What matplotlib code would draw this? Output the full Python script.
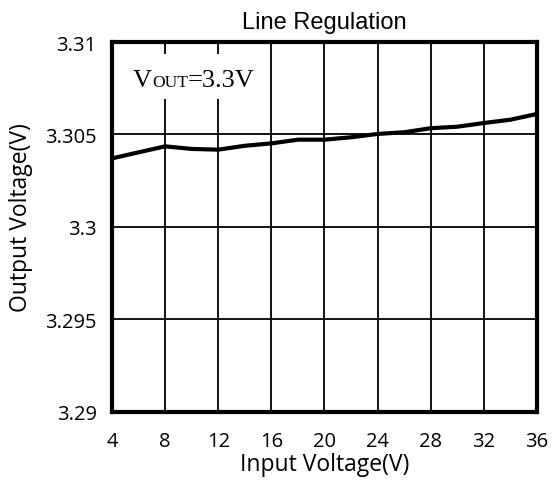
import matplotlib
matplotlib.use("Agg")
import matplotlib.pyplot as plt
from matplotlib.patches import Rectangle

vin = [4, 8, 10, 12, 14, 16, 18, 20, 22, 24, 26, 28, 30, 32, 34, 36]
vout = [3.30371, 3.30436, 3.30422, 3.30418, 3.30439, 3.30452, 3.30472, 3.30472,
        3.30485, 3.30503, 3.30512, 3.30534, 3.30542, 3.30562, 3.30580, 3.30611]
xticks = [4, 8, 12, 16, 20, 24, 28, 32, 36]
yticks = [3.29, 3.295, 3.30, 3.305, 3.31]
ytick_labels = ["3.29", "3.295", "3.3", "3.305", "3.31"]

fig = plt.figure(figsize=(5.52, 4.81), dpi=100)
ax = fig.add_axes([0.2029, 0.1414, 0.7699, 0.7692])
ax.plot(vin, vout, color="black", lw=3.0, zorder=3, solid_capstyle="butt")
ax.set_xlim(4, 36)
ax.set_ylim(3.29, 3.31)
ax.set_xticks(xticks)
ax.set_yticks(yticks)
ax.set_yticklabels(ytick_labels)
ax.grid(True, color="black", lw=1.3, zorder=1)
ax.set_axisbelow(True)
for s in ax.spines.values():
    s.set_linewidth(3.0)
    s.set_zorder(5)
ax.tick_params(length=0, labelsize=14.5, pad=11)
ax.tick_params(axis="x", pad=14)
for lab in ax.get_xticklabels() + ax.get_yticklabels():
    lab.set_family("Open Sans")

xl = ax.set_xlabel("Input Voltage(V)", fontsize=16.5, family="Open Sans")
xl.set_verticalalignment("baseline")
ax.xaxis.set_label_coords(0.5, -0.157)
yl = ax.set_ylabel("Output Voltage(V)", fontsize=16.5, family="Open Sans")
yl.set_verticalalignment("center")
ax.yaxis.set_label_coords(-0.214, 0.527)

ax.text(0.5, 1.038, "Line Regulation", transform=ax.transAxes, fontsize=17,
        family="Liberation Sans", ha="center", va="baseline")

# white box behind annotation
ax.add_patch(Rectangle((0.03, 0.846), 0.30, 0.122, transform=ax.transAxes,
                       facecolor="white", edgecolor="none", zorder=2))
fig.canvas.draw()
r = fig.canvas.get_renderer()
inv = ax.transAxes.inverted()
yb = 0.881
x0 = 0.049
parts = [("V", 19), ("OUT", 12.5), ("=3.3V", 19)]
for s, fs in parts:
    t = ax.text(x0, yb, s, transform=ax.transAxes, fontsize=fs,
                family="Liberation Serif", va="baseline", ha="left", zorder=4)
    bb = t.get_window_extent(renderer=r)
    x0 = inv.transform((bb.x1, bb.y0))[0]

fig.savefig("out.png", dpi=100)
